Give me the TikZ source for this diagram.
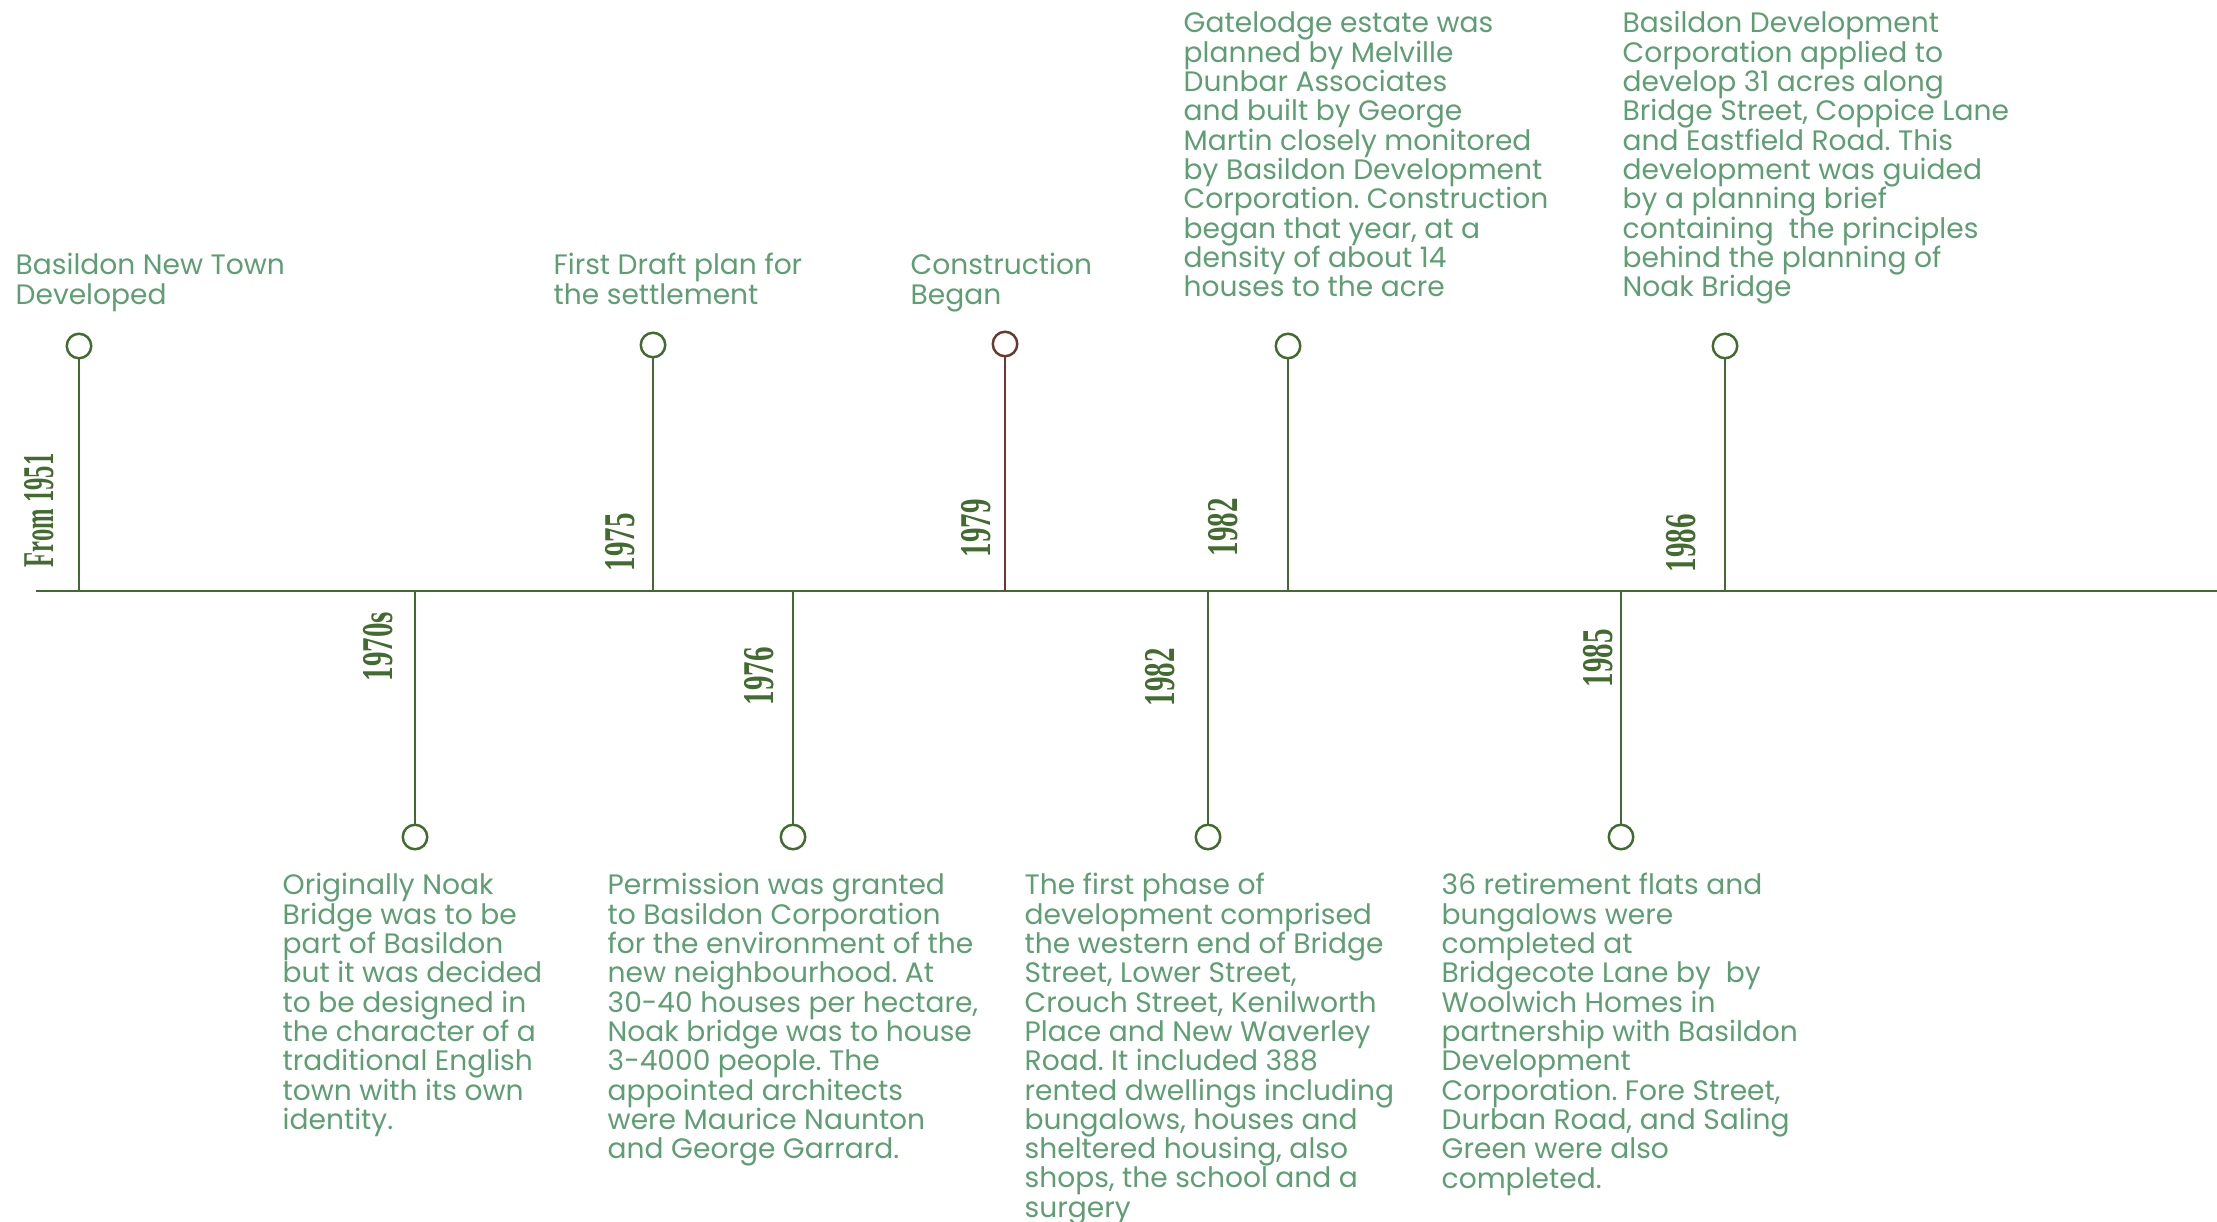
\documentclass[tikz,border=0pt]{standalone}
\usepackage{fontspec}
\setmainfont{Poppins}
\newfontfamily\yearfont[FakeStretch=0.66]{Liberation Serif}
\newfontfamily\firstyearfont[FakeStretch=0.56]{Liberation Serif}
\frenchspacing

\definecolor{linegreen}{RGB}{66,107,48}
\definecolor{textgreen}{RGB}{94,158,115}
\definecolor{pinbrown}{RGB}{107,58,44}

\tikzset{
  axis/.style={draw=linegreen,line width=0.85pt},
  pin/.style={draw=linegreen,line width=0.7pt},
  pinhead/.style={circle,draw=linegreen,line width=0.7pt,minimum size=0.245cm,inner sep=0pt},
  year/.style={rotate=90,anchor=base west,inner sep=0pt,text=linegreen,
    font=\yearfont\bfseries\fontsize{12.5}{12.5}\selectfont},
  % notes are placed by the baseline of their last line
  note/.style={anchor=base west,inner sep=0pt,align=left,text=textgreen,
    font=\fontsize{8}{8.34}\selectfont}
}

\begin{document}
\begin{tikzpicture}
\useasboundingbox (0,5.91) rectangle (22.17,-6.30);

% time axis
\coordinate (start) at (0.36,0);
\coordinate (end) at (22.17,0);
\draw [axis] (start) -- (end);

% events above the axis
\coordinate (f51) at (0.79,0);
\node [pinhead] (p51) at (0.79,2.45) {};
\draw [pin] (f51) -- (p51);
\node [year,font=\firstyearfont\bfseries\fontsize{12.5}{12.5}\selectfont] (y51) at (0.53,0.23) {From 1951};

\coordinate (f75) at (6.53,0);
\node [pinhead] (p75) at (6.53,2.46) {};
\draw [pin] (f75) -- (p75);
\node [year] (y75) at (6.34,0.19) {1975};

\coordinate (f79) at (10.05,0);
\node [pinhead,draw=pinbrown] (p79) at (10.05,2.47) {};
\draw [pin,draw=pinbrown] (f79) -- (p79);
\node [year] (y79) at (9.90,0.33) {1979};

\coordinate (f82a) at (12.88,0);
\node [pinhead] (p82a) at (12.88,2.45) {};
\draw [pin] (f82a) -- (p82a);
\node [year] (y82a) at (12.37,0.34) {1982};

\coordinate (f86) at (17.25,0);
\node [pinhead] (p86) at (17.25,2.45) {};
\draw [pin] (f86) -- (p86);
\node [year] (y86) at (16.95,0.18) {1986};

% events below the axis
\coordinate (f70) at (4.15,0);
\node [pinhead] (p70) at (4.15,-2.46) {};
\draw [pin] (f70) -- (p70);
\node [year] (y70) at (3.92,-0.91) {1970s};

\coordinate (f76) at (7.93,0);
\node [pinhead] (p76) at (7.93,-2.46) {};
\draw [pin] (f76) -- (p76);
\node [year] (y76) at (7.73,-1.15) {1976};

\coordinate (f82b) at (12.08,0);
\node [pinhead] (p82b) at (12.08,-2.46) {};
\draw [pin] (f82b) -- (p82b);
\node [year] (y82b) at (11.74,-1.16) {1982};

\coordinate (f85) at (16.21,0);
\node [pinhead] (p85) at (16.21,-2.46) {};
\draw [pin] (f85) -- (p85);
\node [year] (y85) at (16.12,-0.97) {1985};

% notes
\node [note] (n51) at (0.15,2.867) {Basildon New Town\\Developed};
\node [note] (n75) at (5.53,2.867) {First Draft plan for\\the settlement};
\node [note] (n79) at (9.10,2.867) {Construction\\Began};
\node [note] (n82a) at (11.83,2.943) {Gatelodge estate was\\planned by Melville\\Dunbar Associates\\and built by George\\Martin closely monitored\\by Basildon Development\\Corporation. Construction\\began that year, at a\\density of about 14\\houses to the acre};
\node [note] (n86) at (16.22,2.943) {Basildon Development\\Corporation applied to\\develop 31 acres along\\Bridge Street, Coppice Lane\\and Eastfield Road. This\\development was guided\\by a planning brief\\containing~ the principles\\behind the planning of\\Noak Bridge};

\node [note] (n70) at (2.82,-5.384) {Originally Noak\\Bridge was to be\\part of Basildon\\but it was decided\\to be designed in\\the character of a\\traditional English\\town with its own\\identity.};
\node [note] (n76) at (6.07,-5.677) {Permission was granted\\to Basildon Corporation\\for the environment of the\\new neighbourhood. At\\30-40 houses per hectare,\\Noak bridge was to house\\3-4000 people. The\\appointed architects\\were Maurice Naunton\\and George Garrard.};
\node [note] (n82b) at (10.24,-6.263) {The first phase of\\development comprised\\the western end of Bridge\\Street, Lower Street,\\Crouch Street, Kenilworth\\Place and New Waverley\\Road. It included 388\\rented dwellings including\\bungalows, houses and\\sheltered housing, also\\shops, the school and a\\surgery};
\node [note] (n85) at (14.41,-5.97) {36 retirement flats and\\bungalows were\\completed at\\Bridgecote Lane by~ by\\Woolwich Homes in\\partnership with Basildon\\Development\\Corporation. Fore Street,\\Durban Road, and Saling\\Green were also\\completed.};

\end{tikzpicture}
\end{document}
